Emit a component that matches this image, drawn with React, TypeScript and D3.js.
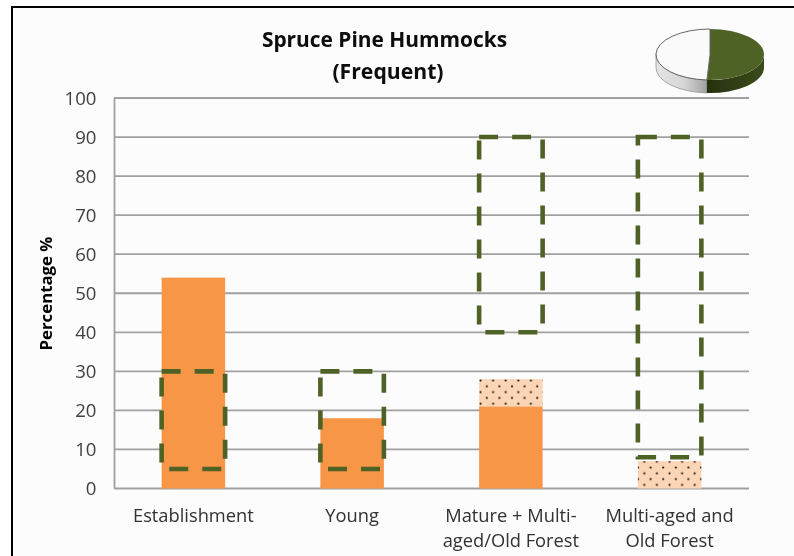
import React from "react";
import * as d3 from "d3";

const categories: string[][] = [
  ["Establishment"],
  ["Young"],
  ["Mature + Multi-", "aged/Old Forest"],
  ["Multi-aged and", "Old Forest"],
];
const solidValues = [54, 18, 21, 0];
const dottedValues = [0, 0, 7, 7];
const rangeLow = [5, 5, 40, 8];
const rangeHigh = [30, 30, 90, 90];
const yTicks = d3.range(0, 101, 10);
const pieValues = [50.9, 49.1];
const FONT = "'Open Sans', Lato, sans-serif";

export default function App() {
  const x = d3.scaleBand<number>().domain(d3.range(4)).range([114, 749]).paddingInner(0.6).paddingOuter(0.3);
  const y = d3.scaleLinear().domain([0, 100]).range([488.5, 98]);

  // 3D pie
  const cx = 710, cy = 54.5, rx = 54, ry = 25.5, depth = 13;
  const arc = d3.arc<d3.PieArcDatum<number>>().innerRadius(0).outerRadius(rx);
  const slices = d3.pie<number>().sort(null)(pieValues);
  const splitAngle = slices[0].endAngle;
  const splitX = cx + rx * Math.sin(splitAngle);
  const splitY = cy - ry * Math.cos(splitAngle);
  const wall = (x0: number, y0: number, x1: number, y1: number) =>
    `M${x0},${y0} A${rx},${ry} 0 0 0 ${x1},${y1} L${x1},${y1 + depth} A${rx},${ry} 0 0 1 ${x0},${y0 + depth} Z`;

  return (
    <svg width={794} height={556} style={{ position: "fixed", left: 0, top: 0, display: "block", background: "#fff" }}>
      <defs>
        <pattern id="dots" width={12.6} height={11.6} patternUnits="userSpaceOnUse" patternTransform="translate(479,379)">
          <rect width={12.6} height={11.6} fill="#fbd5b5" />
          <circle cx={1.5} cy={1.5} r={1.1} fill="#1e1810" />
          <circle cx={7.8} cy={7.3} r={1.1} fill="#1e1810" />
        </pattern>
        <linearGradient id="wallGrey" x1="0" x2="1" y1="0" y2="0">
          <stop offset="0" stopColor="#e4e4e4" />
          <stop offset="0.55" stopColor="#d6d6d6" />
          <stop offset="1" stopColor="#a0a0a0" />
        </linearGradient>
        <linearGradient id="wallGreen" x1="0" x2="1" y1="0" y2="0">
          <stop offset="0" stopColor="#27310f" />
          <stop offset="1" stopColor="#3a4a1c" />
        </linearGradient>
        <filter id="soft" x="-2%" y="-2%" width="104%" height="104%">
          <feGaussianBlur stdDeviation={0.45} />
        </filter>
      </defs>

      <g filter="url(#soft)">
        <rect x={12} y={7} width={782} height={549} fill="#fcfcfc" />
        <line x1={11} x2={794} y1={7} y2={7} stroke="#000" strokeWidth={2} />
        <line x1={12} x2={12} y1={7} y2={556} stroke="#000" strokeWidth={2} />

        {yTicks.map((t) => (
          <line key={t} x1={114} x2={749} y1={y(t)} y2={y(t)} stroke="#a0a0a0" strokeWidth={1.8} />
        ))}
        <line x1={114.5} x2={114.5} y1={y(100)} y2={y(0)} stroke="#a0a0a0" strokeWidth={1.8} />

        {categories.map((_, i) => {
          const bx = x(i)!, w = x.bandwidth();
          return (
            <g key={i}>
              {dottedValues[i] > 0 && (
                <rect x={bx} width={w} y={y(solidValues[i] + dottedValues[i])} height={y(solidValues[i]) - y(solidValues[i] + dottedValues[i])} fill="url(#dots)" />
              )}
              {solidValues[i] > 0 && (
                <rect x={bx} width={w} y={y(solidValues[i])} height={y(0) - y(solidValues[i])} fill="#f79646" />
              )}
            </g>
          );
        })}
        {categories.map((_, i) => (
          <rect key={i} x={x(i)!} width={x.bandwidth()} y={y(rangeHigh[i])} height={y(rangeLow[i]) - y(rangeHigh[i])}
            fill="none" stroke="#4f6228" strokeWidth={4.6} strokeDasharray="19 14" />
        ))}

        {yTicks.map((t) => (
          <text key={t} x={96.5} y={y(t) + 6.5} textAnchor="end" fontFamily={FONT} fontSize={18.6} fill="#404040">{t}</text>
        ))}
        {categories.map((lines, i) =>
          lines.map((l, j) => (
            <text key={l} x={x(i)! + x.bandwidth() / 2} y={522 + j * 25} textAnchor="middle" fontFamily={FONT} fontSize={18.3} fill="#303030">{l}</text>
          ))
        )}
        <text transform="translate(52,293.5) rotate(-90)" textAnchor="middle" fontFamily={FONT} fontSize={16.8} fontWeight={700} fill="#000">Percentage %</text>
        <text x={384.5} y={47} textAnchor="middle" fontFamily={FONT} fontSize={20.9} fontWeight={700} fill="#0a0a0a">Spruce Pine Hummocks</text>
        <text x={388} y={79} textAnchor="middle" fontFamily={FONT} fontSize={21.2} fontWeight={700} fill="#0a0a0a">(Frequent)</text>

        <path d={wall(cx - rx, cy, splitX, splitY)} fill="url(#wallGrey)" stroke="#777" strokeWidth={0.6} />
        <path d={wall(splitX, splitY, cx + rx, cy)} fill="url(#wallGreen)" />
        <g transform={`translate(${cx},${cy}) scale(1,${ry / rx})`}>
          <path d={arc(slices[0])!} fill="#4f6228" />
          <path d={arc(slices[1])!} fill="#fafafa" stroke="#666" strokeWidth={1} vectorEffect="non-scaling-stroke" />
        </g>
      </g>
    </svg>
  );
}
